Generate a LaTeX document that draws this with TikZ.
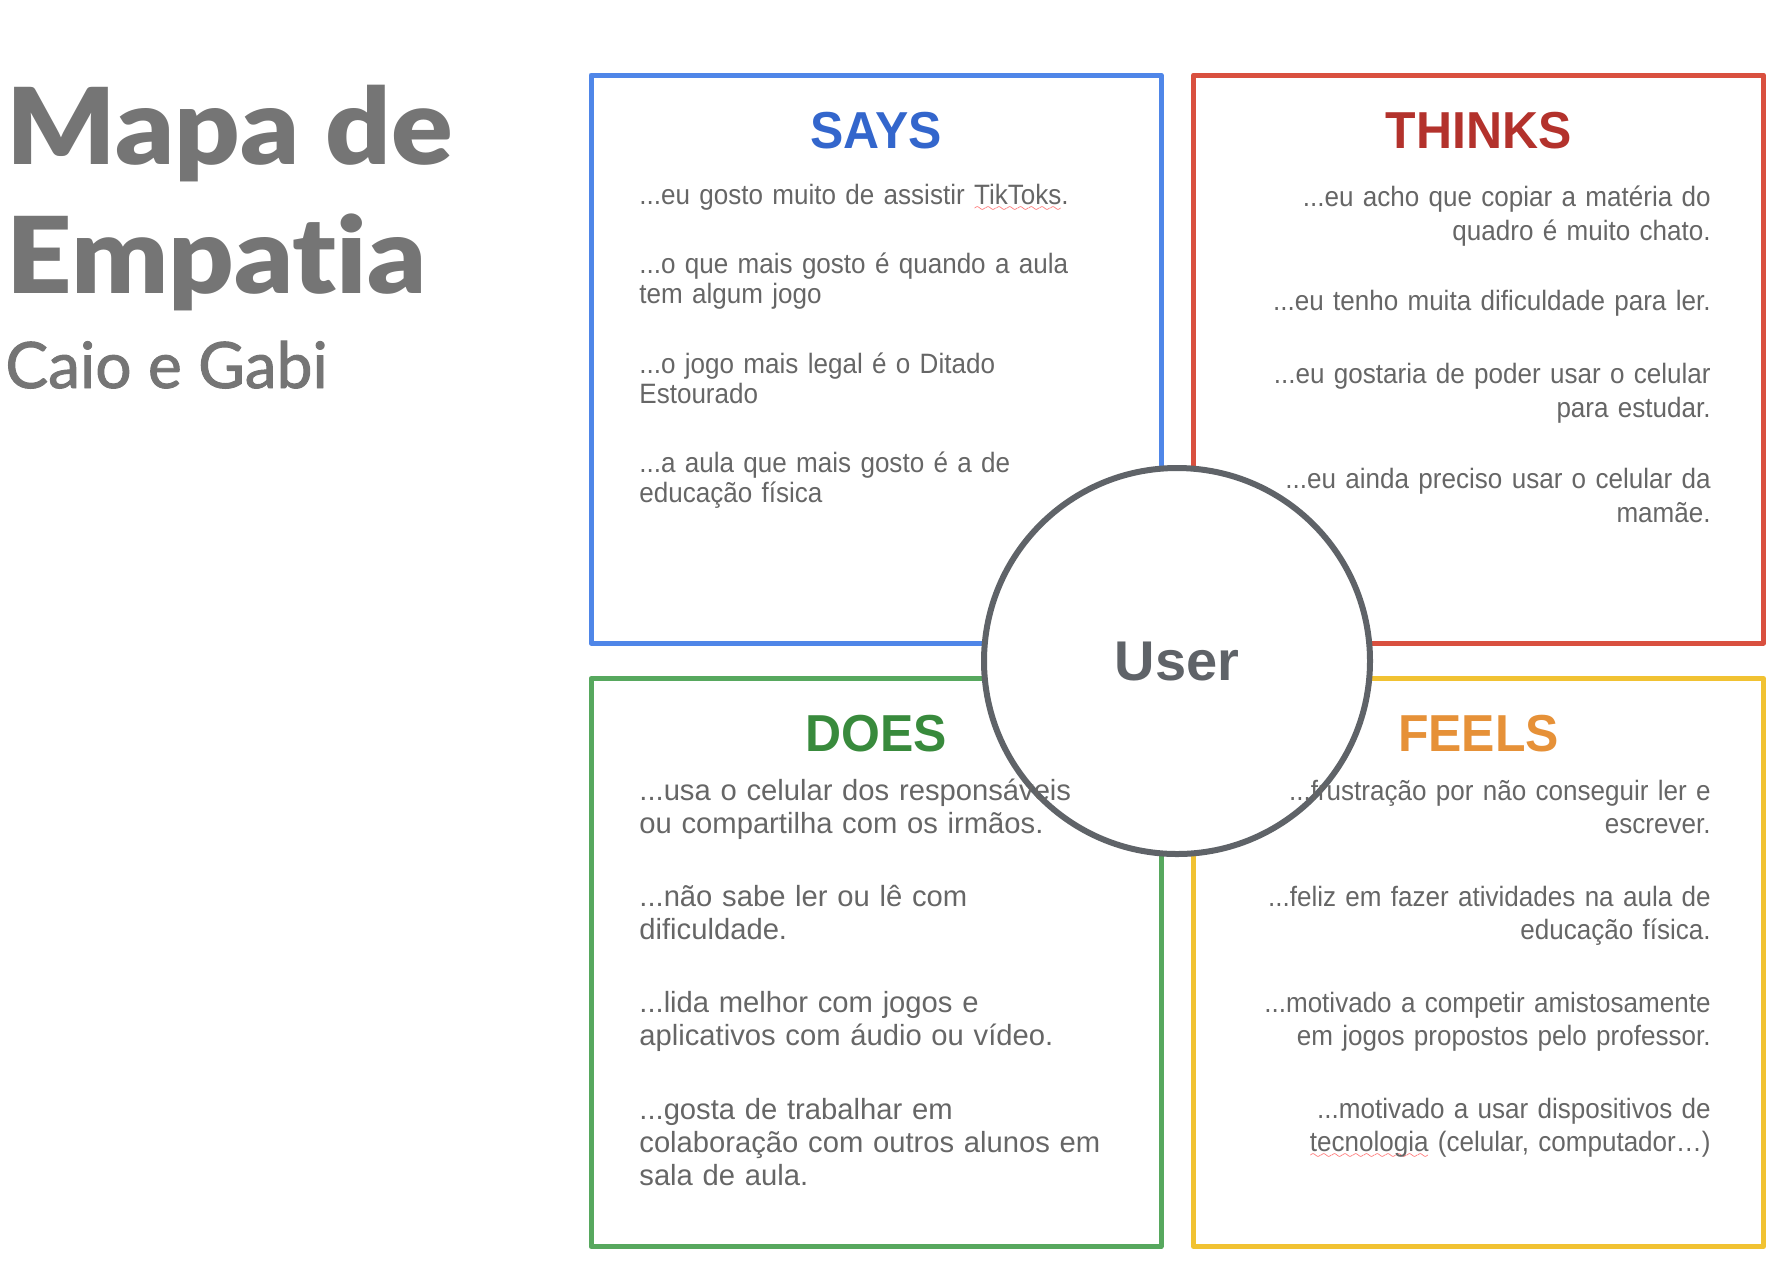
\documentclass[tikz,border=0pt]{standalone}
\usepackage{fontspec}
\setmainfont{Liberation Sans}
\newfontfamily\bodyfont{Liberation Sans}[FakeStretch=0.93]
\newfontfamily\headfont{Liberation Sans}[FakeStretch=0.96]
\newfontfamily\plainfont{Liberation Sans}
\newfontfamily\titlefont{Lato Black}[Ligatures=NoCommon, FakeStretch=1.08]
\newfontfamily\subtitlefont{Lato}[Ligatures=NoCommon, UprightFeatures={FakeBold=1.5}]

\definecolor{saysline}{HTML}{4F86E8}
\definecolor{saystext}{HTML}{3366CC}
\definecolor{thinksline}{HTML}{D9503F}
\definecolor{thinkstext}{HTML}{B3322C}
\definecolor{doesline}{HTML}{57A85E}
\definecolor{doestext}{HTML}{388A3C}
\definecolor{feelsline}{HTML}{F1C232}
\definecolor{feelstext}{HTML}{E69138}
\definecolor{ringgray}{HTML}{5F6368}
\definecolor{bodygray}{HTML}{666666}
\definecolor{titlegray}{HTML}{757575}

% red wavy mark under words flagged by the spell checker
\font\wavefont=lasy6
\newsavebox\wavebox
\newcommand\spellwave[1]{\leavevmode\sbox\wavebox{#1}\rlap{\color{red!70}\lower3.5pt\hbox to\wd\wavebox{\xleaders\hbox{\wavefont\char58}\hfil}}\usebox\wavebox}

\tikzset{
    panel/.style={draw=#1, line width=2.5pt, line join=round, minimum width=285pt, minimum height=284pt, inner sep=0pt},
    heading/.style={anchor=base, inner sep=0pt, text=#1, font=\headfont\bfseries\fontsize{26}{30}\selectfont},
    leftitem/.style={anchor=base west, text width=250pt, align=left, inner sep=0pt, text=bodygray},
    rightitem/.style={anchor=base east, text width=250pt, align=right, inner sep=0pt, text=bodygray},
    slidetext/.style={font=\bodyfont\fontsize{14}{#1}\selectfont},
    doestext/.style={font=\plainfont\fontsize{14.6}{16.5}\selectfont},
    titletext/.style={anchor=base west, inner sep=0pt, text=titlegray}
}

\begin{document}
\begin{tikzpicture}[
            x=0.5pt,
            y=0.5pt,
            yscale=-1,
            xscale=1
        ]
            \useasboundingbox (0,0) rectangle (1786,1276);

            % title
            \node[titletext, font=\titlefont\fontsize{53}{60}\selectfont] (mapa) at (6,164) {Mapa de};
            \node[titletext, font=\titlefont\fontsize{53}{60}\selectfont] (empatia) at (6,293) {Empatia};
            \node[titletext, font=\subtitlefont\fontsize{32}{36}\selectfont] (autores) at (5,388) {Caio e Gabi};

            % quadrants
            \node[panel=saysline] (saysbox) at (876,359) {};
            \node[panel=thinksline] (thinksbox) at (1478.5,359) {};
            \node[panel=doesline] (doesbox) at (876,962.5) {};
            \node[panel=feelsline] (feelsbox) at (1478.5,962.5) {};

            % centre
            \node[circle, draw=ringgray, line width=3pt, fill=white, minimum size=193pt, text=ringgray,
                  font=\plainfont\bfseries\fontsize{28}{30}\selectfont] (user) at (1177,661) {User};

            % SAYS
            \node[heading=saystext] (saystitle) at (876,148) {SAYS};
            \node[leftitem, slidetext=15] (says1) at (639,204) {...eu gosto muito de assistir \spellwave{TikToks}.};
            \node[leftitem, slidetext=15] (says2) at (639,273) {...o que mais gosto é quando a aula\\tem algum jogo};
            \node[leftitem, slidetext=15] (says3) at (639,373) {...o jogo mais legal é o Ditado\\Estourado};
            \node[leftitem, slidetext=15] (says4) at (639,472) {...a aula que mais gosto é a de\\educação física};

            % THINKS
            \node[heading=thinkstext] (thinkstitle) at (1478.5,148) {THINKS};
            \node[rightitem, slidetext=17] (thinks1) at (1711,206) {...eu acho que copiar a matéria do\\quadro é muito chato.};
            \node[rightitem, slidetext=17] (thinks2) at (1711,310) {...eu tenho muita dificuldade para ler.};
            \node[rightitem, slidetext=17] (thinks3) at (1711,383) {...eu gostaria de poder usar o celular\\para estudar.};
            \node[rightitem, slidetext=17] (thinks4) at (1711,488) {...eu ainda preciso usar o celular da\\mamãe.};

            % DOES
            \node[heading=doestext] (doestitle) at (876,751) {DOES};
            \node[leftitem, doestext] (does1) at (639,800) {...usa o celular dos responsáveis\\ou compartilha com os irmãos.};
            \node[leftitem, doestext] (does2) at (639,906) {...não sabe ler ou lê com\\dificuldade.};
            \node[leftitem, doestext] (does3) at (639,1012) {...lida melhor com jogos e\\aplicativos com áudio ou vídeo.};
            \node[leftitem, doestext] (does4) at (639,1119) {...gosta de trabalhar em\\colaboração com outros alunos em\\sala de aula.};

            % FEELS
            \node[heading=feelstext] (feelstitle) at (1478.5,751) {FEELS};
            \node[rightitem, slidetext=16.5] (feels1) at (1711,800) {...frustração por não conseguir ler e\\escrever.};
            \node[rightitem, slidetext=16.5] (feels2) at (1711,906) {...feliz em fazer atividades na aula de\\educação física.};
            \node[rightitem, slidetext=16.5] (feels3) at (1711,1012) {...motivado a competir amistosamente\\em jogos propostos pelo professor.};
            \node[rightitem, slidetext=16.5] (feels4) at (1711,1118) {...motivado a usar dispositivos de\\\spellwave{tecnologia} (celular, computador…)};
        \end{tikzpicture}
\end{document}
